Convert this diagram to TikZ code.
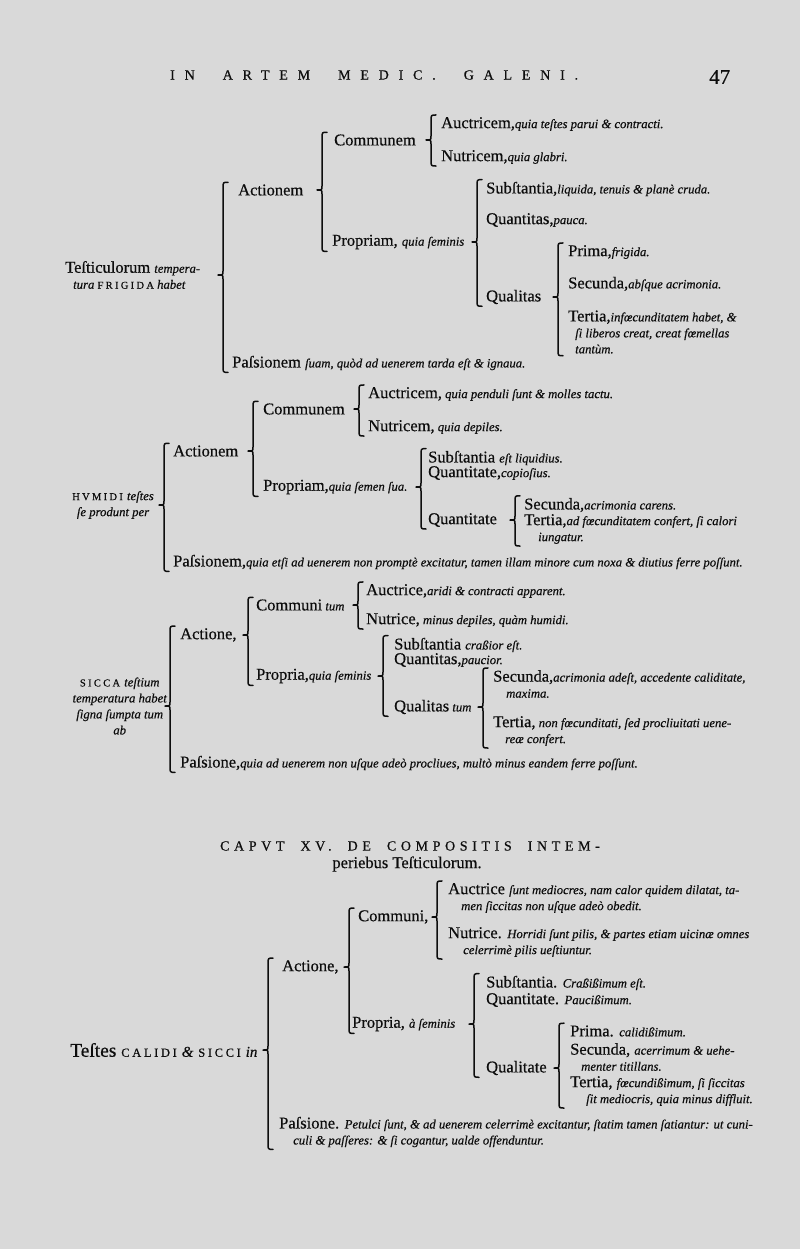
\documentclass[tikz,border=0pt]{standalone}
\usepackage{fontspec}
\setmainfont{Liberation Serif}[UprightFeatures={FakeBold=0.5},ItalicFeatures={FakeBold=0.5}]
\usetikzlibrary{calc}
\definecolor{paper}{gray}{0.85}
\definecolor{ink}{gray}{0.05}
\newcommand{\gl}[1]{{\fontsize{12.7}{16}\selectfont\itshape #1}}
\newcommand{\sck}[1]{{\fontsize{10.5}{16}\selectfont\upshape\addfontfeature{LetterSpace=22}#1}}
\newcommand{\spc}[2][45]{{\fontsize{14}{16}\selectfont\addfontfeature{LetterSpace=#1}#2}}
\newcommand{\brak}[4][9]{%
  \path ([xshift=-#1pt]#3.north west) coordinate (bt)
        (bt |- #4.south west) coordinate (bb)
        (bt |- #2.east) coordinate (bm);
  \draw[brak] ($(bt)+(5,-1)$) .. controls ($(bt)+(0,-1)$) .. ($(bt)+(0,5)$)
    -- ($(bm)+(0,-4)$) .. controls (bm) .. ($(bm)+(-5,0)$)
    .. controls (bm) .. ($(bm)+(0,4)$)
    -- ($(bb)+(0,-5)$) .. controls ($(bb)+(0,1)$) .. ($(bb)+(5,1)$);}
\begin{document}
\begin{tikzpicture}[x=1pt,y=-1pt,
    every node/.style={anchor=west,inner sep=1pt,text=ink,align=left,
      font=\fontsize{16.5}{16}\selectfont},
    brak/.style={draw=ink,line width=1.5pt,line cap=round,line join=round}]
  \fill[paper] (0,0) rectangle (800,1249);
  \useasboundingbox (0,0) rectangle (800,1249);

  \node (head) at (169,75) {\spc[70]{IN\hspace{28pt}ARTEM\hspace{28pt}MEDIC.\hspace{28pt}GALENI.}};
  \node (folio) at (708,77) {\fontsize{21}{21}\selectfont 47};

  \node (root1) at (64,275) {Teſticulorum \gl{tempera-}\\\hspace*{8pt}\gl{tura \sck{FRIGIDA} habet}};
  \node (act1) at (237,190) {Actionem};
  \node (com1) at (333,140) {Communem};
  \node (auc1) at (440,124) {Auctricem,\gl{quia teſtes parui \& contracti.}};
  \node (nut1) at (440,157) {Nutricem,\gl{quia glabri.}};
  \node (pro1) at (331,242) {Propriam, \gl{quia ſeminis}};
  \node (sub1) at (485,189) {Subſtantia,\gl{liquida, tenuis \& planè cruda.}};
  \node (qua1) at (485,220) {Quantitas,\gl{pauca.}};
  \node (qal1) at (485,297) {Qualitas};
  \node (pri1) at (567,252) {Prima,\gl{frigida.}};
  \node (sec1) at (567,284) {Secunda,\gl{abſque acrimonia.}};
  \node (ter1) at (567,332) {Tertia,\gl{infœcunditatem habet, \&}\\\hspace*{7pt}\gl{ſi liberos creat, creat fœmellas}\\\hspace*{7pt}\gl{tantùm.}};
  \node (pas1) at (231,363) {Paſsionem \gl{ſuam, quòd ad uenerem tarda eſt \& ignaua.}};
  \brak[14]{root1}{act1}{pas1}
  \brak[11]{act1}{com1}{pro1}
  \brak{com1}{auc1}{nut1}
  \brak[8]{pro1}{sub1}{qal1}
  \brak{qal1}{pri1}{ter1}

  \node[anchor=east,align=center] (root2) at (155,505) {\sck{HVMIDI} \gl{teſtes}\\\gl{ſe produnt per}};
  \node (act2) at (172,451) {Actionem};
  \node (com2) at (262,409) {Communem};
  \node (auc2) at (367,394) {Auctricem,\gl{ quia penduli ſunt \& molles tactu.}};
  \node (nut2) at (367,427) {Nutricem,\gl{ quia depiles.}};
  \node (pro2) at (262,487) {Propriam,\gl{quia ſemen ſua.}};
  \node (sub2) at (427,458) {Subſtantia \gl{eſt liquidius.}};
  \node (qua2) at (427,473) {Quantitate,\gl{copioſius.}};
  \node (qal2) at (427,520) {Quantitate};
  \node (sec2) at (523,505) {Secunda,\gl{acrimonia carens.}};
  \node (ter2) at (523,529) {Tertia,\gl{ad fœcunditatem confert, ſi calori}\\\hspace*{14pt}\gl{iungatur.}};
  \node (pas2) at (172,562) {Paſsionem,\gl{quia etſi ad uenerem non promptè excitatur, tamen illam minore cum noxa \& diutius ferre poſſunt.}};
  \brak[8]{root2}{act2}{pas2}
  \brak{act2}{com2}{pro2}
  \brak[8]{com2}{auc2}{nut2}
  \brak[6]{pro2}{sub2}{qal2}
  \brak[8]{qal2}{sec2}{ter2}

  \node[anchor=east,align=center] (root3) at (168,706) {\sck{SICCA} \gl{teſtium}\\\gl{temperatura habet}\\\gl{ſigna ſumpta tum}\\\gl{ab}};
  \node (act3) at (179,635) {Actione,};
  \node (com3) at (255,605) {Communi\gl{ tum}};
  \node (auc3) at (365,591) {Auctrice,\gl{aridi \& contracti apparent.}};
  \node (nut3) at (365,620) {Nutrice,\gl{ minus depiles, quàm humidi.}};
  \node (pro3) at (255,676) {Propria,\gl{quia ſeminis}};
  \node (sub3) at (393,645) {Subſtantia \gl{craßior eſt.}};
  \node (qua3) at (393,660) {Quantitas,\gl{paucior.}};
  \node (qal3) at (393,707) {Qualitas\gl{ tum}};
  \node (sec3) at (492,684) {Secunda,\gl{acrimonia adeſt, accedente caliditate,}\\\hspace*{13pt}\gl{maxima.}};
  \node (ter3) at (492,731) {Tertia,\gl{ non fœcunditati, ſed procliuitati uene-}\\\hspace*{12pt}\gl{reæ confert.}};
  \node (pas3) at (179,763) {Paſsione,\gl{quia ad uenerem non uſque adeò procliues, multò minus eandem ferre poſſunt.}};
  \brak{root3}{act3}{pas3}
  \brak[7]{act3}{com3}{pro3}
  \brak[7]{com3}{auc3}{nut3}
  \brak[10]{pro3}{sub3}{qal3}
  \brak{qal3}{sec3}{ter3}

  \node[anchor=center] (tit1) at (410,846) {\spc[33]{CAPVT\hspace{16pt}XV.\hspace{16pt}DE\hspace{16pt}COMPOSITIS\hspace{16pt}INTEM-}};
  \node[anchor=center] (tit2) at (407,864) {periebus Teſticulorum.};

  \node (root4) at (69,1050) {\scalebox{1.18}{Teſtes \sck{CALIDI} \gl{\&} \sck{SICCI} \gl{in}}};
  \node (act4) at (281,967) {Actione,};
  \node (com4) at (357,917) {Communi,};
  \node (auc4) at (447,898) {Auctrice \gl{ſunt mediocres, nam calor quidem dilatat, ta-}\\\hspace*{13pt}\gl{men ſiccitas non uſque adeò obedit.}};
  \node (nut4) at (447,942) {Nutrice. \gl{Horridi ſunt pilis, \& partes etiam uicinæ omnes}\\\hspace*{15pt}\gl{celerrimè pilis ueſtiuntur.}};
  \node (pro4) at (351,1024) {Propria, \gl{à ſeminis}};
  \node (sub4) at (485,983) {Subſtantia. \gl{Craßißimum eſt.}};
  \node (qua4) at (485,1000) {Quantitate. \gl{Paucißimum.}};
  \node (qal4) at (485,1068) {Qualitate};
  \node (pri4) at (569,1031) {Prima. \gl{calidißimum.}};
  \node (sec4) at (569,1057) {Secunda, \gl{acerrimum \& uehe-}\\\hspace*{11pt}\gl{menter titillans.}};
  \node (ter4) at (569,1091) {Tertia, \gl{fœcundißimum, ſi ſiccitas}\\\hspace*{16pt}\gl{ſit mediocris, quia minus diffluit.}};
  \node (pas4) at (278,1132) {Paſsione. \gl{Petulci ſunt, \& ad uenerem celerrimè excitantur, ſtatim tamen ſatiantur: ut cuni-}\\\hspace*{14pt}\gl{culi \& paſſeres: \& ſi cogantur, ualde offenduntur.}};
  \brak[13]{root4}{act4}{pas4}
  \brak[8]{act4}{com4}{pro4}
  \brak[10]{com4}{auc4}{nut4}
  \brak[11]{pro4}{sub4}{qal4}
  \brak[10]{qal4}{pri4}{ter4}
\end{tikzpicture}
\end{document}
